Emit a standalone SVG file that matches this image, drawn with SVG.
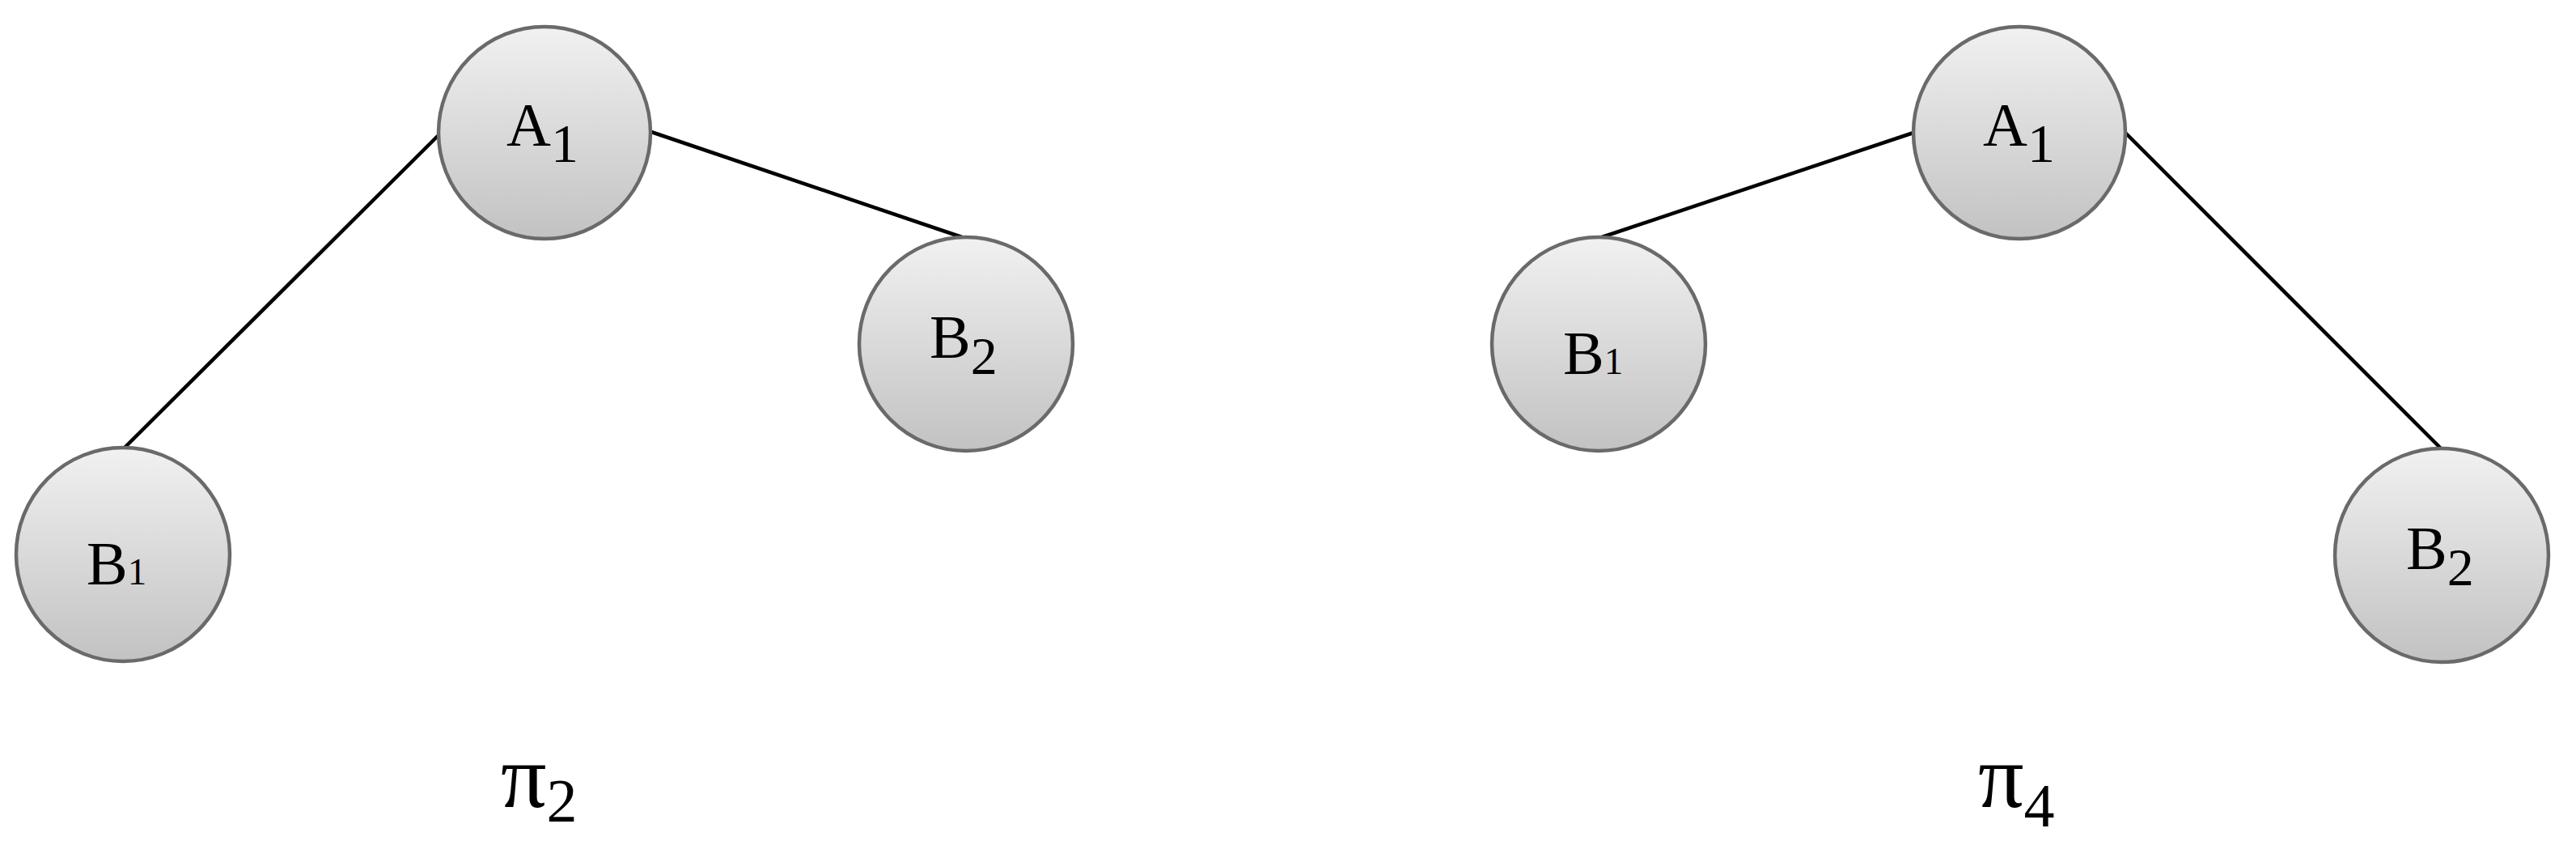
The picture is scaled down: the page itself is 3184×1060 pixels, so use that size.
<svg xmlns="http://www.w3.org/2000/svg" width="3184" height="1060" viewBox="0 0 3184 1060">
<style>
.node circle{fill:url(#g);stroke:#6a6a6a;stroke-width:4.5}
.lbl{font-family:"Liberation Serif","Times New Roman",serif;font-size:76px;fill:#000}
.pi{font-family:"Liberation Serif","Times New Roman",serif;font-size:112px;fill:#000}
.edges line{stroke:#000;stroke-width:4.5}
</style>
<defs>
<linearGradient id="g" x1="0" y1="0" x2="0" y2="1">
<stop offset="0" stop-color="#f1f1f1"/>
<stop offset="1" stop-color="#c2c2c2"/>
</linearGradient>
</defs>
<rect width="3184" height="1060" fill="#fff"/>
<g class="edges">
<line x1="542" y1="167" x2="152" y2="555"/>
<line x1="805" y1="163" x2="1192" y2="294"/>
<line x1="1977" y1="294" x2="2365" y2="164"/>
<line x1="2627" y1="164" x2="3018" y2="555"/>
</g>
<g id="A1_left" class="node"><circle cx="673" cy="164" r="131"/><text class="lbl" x="626" y="180">A<tspan font-size="68" dy="20">1</tspan></text></g>
<g id="B1_left" class="node"><circle cx="152" cy="685" r="132"/><text class="lbl" x="107" y="722">B<tspan font-size="47">1</tspan></text></g>
<g id="B2_left" class="node"><circle cx="1194" cy="425" r="132"/><text class="lbl" x="1149" y="442">B<tspan font-size="66" dy="20">2</tspan></text></g>
<g id="A1_right" class="node"><circle cx="2496" cy="164" r="131"/><text class="lbl" x="2451" y="180">A<tspan font-size="68" dy="20">1</tspan></text></g>
<g id="B1_right" class="node"><circle cx="1976" cy="425" r="132"/><text class="lbl" x="1932" y="462">B<tspan font-size="47">1</tspan></text></g>
<g id="B2_right" class="node"><circle cx="3018" cy="686" r="132"/><text class="lbl" x="2974" y="703">B<tspan font-size="66" dy="20">2</tspan></text></g>
<g id="pi2"><text class="pi" x="619" y="997">π<tspan font-size="76" dy="18">2</tspan></text></g>
<g id="pi4"><text class="pi" x="2445" y="997">π<tspan font-size="76" dy="24">4</tspan></text></g>
</svg>
